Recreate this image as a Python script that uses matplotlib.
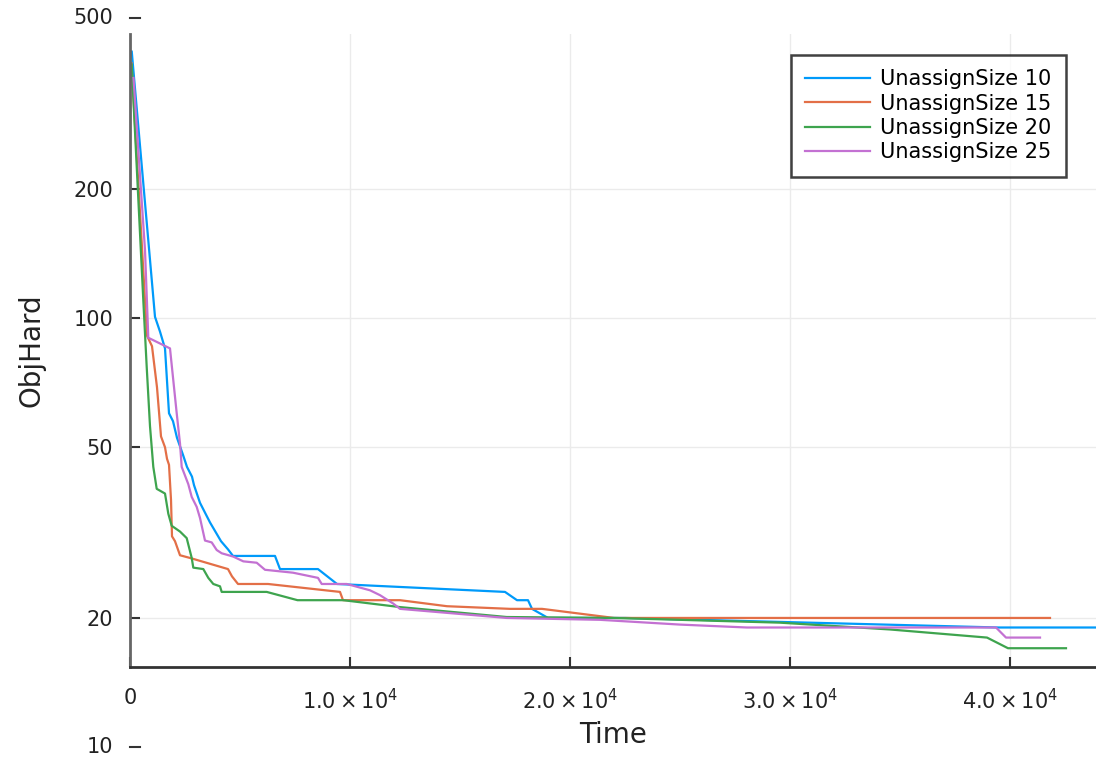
import matplotlib
matplotlib.use("Agg")
import matplotlib.pyplot as plt
import matplotlib.transforms as mtransforms
import numpy as np

# ObjHard over time, one run per unassign size
t10 = [80, 1136, 1364, 1591, 1773, 1955, 2136, 2409, 2590, 2818, 2909, 3182, 3636, 4136, 4455, 4682,
       6591, 6818, 8545, 9409, 17045, 17591, 18091, 18273, 19000, 22500, 39500, 44000]
obj10 = [418, 100.7, 93, 85, 60, 57.5, 52.6, 48, 45, 42.7, 40.8, 37.1, 33.4, 30.2, 28.9, 27.9,
         27.9, 26, 26, 24, 23, 22, 22, 21, 20, 20, 19, 19]

t15 = [68, 773, 1000, 1227, 1409, 1591, 1682, 1773, 1864, 1909, 2045, 2273, 2727, 4455, 4636, 4909,
       6273, 9545, 9682, 12273, 14409, 17273, 18727, 22000, 41818]
obj15 = [393, 91, 86, 69, 53, 50, 47, 45.5, 37.7, 31, 30.2, 28, 27.6, 26, 25, 24,
         24, 23, 22, 22, 21.3, 21, 21, 20, 20]

t20 = [77, 605, 759, 909, 1059, 1214, 1591, 1741, 1895, 2273, 2577, 2805, 2877, 3332, 3559, 3786,
       4091, 4168, 6214, 7614, 9695, 12273, 17121, 22000, 29545, 34545, 38955, 39909, 42545]
obj20 = [390, 110, 77, 56, 45, 40, 39, 35, 32.8, 31.8, 30.7, 27.6, 26.2, 26, 24.8, 24,
         23.7, 23, 23, 22, 22, 21.2, 20.1, 20, 19.5, 18.8, 18, 17, 17]

t25 = [159, 682, 832, 1818, 2123, 2273, 2350, 2650, 2805, 3032, 3182, 3409, 3714, 3941, 4168, 4695,
       5150, 5759, 6136, 7409, 8545, 8714, 9850, 10909, 11364, 11968, 12273, 17121, 21364, 25000,
       28045, 39364, 39818, 41364]
obj25 = [363, 144, 90, 85, 60, 51, 45, 41, 38.3, 36.3, 34.2, 30.3, 30, 28.8, 28.3, 27.8,
         27.1, 26.9, 25.9, 25.5, 24.8, 24, 24, 23.2, 22.6, 21.6, 21, 20, 19.8, 19.3,
         19, 19, 18, 18]

labels = ["UnassignSize 10", "UnassignSize 15", "UnassignSize 20", "UnassignSize 25"]
colors = ["#009AFA", "#E36F47", "#3EA44E", "#C371D2"]

xticks = [0, 1e4, 2e4, 3e4, 4e4]
xticklabels = ["0", r"$1.0\times10^{4}$", r"$2.0\times10^{4}$", r"$3.0\times10^{4}$", r"$4.0\times10^{4}$"]
yticks = [20, 50, 100, 200]
yticks_outside = [500, 10]

fig = plt.figure(figsize=(10.96, 7.62), dpi=100)
ax = fig.add_axes([130 / 1096, 95 / 762, 966 / 1096, 633 / 762])

series = [(t10, obj10), (t15, obj15), (t20, obj20), (t25, obj25)]
for (t, y), lab, c in zip(series, labels, colors):
    ax.plot(t, y, color=c, linewidth=1.6, label=lab)

ax.set_yscale("log")
ax.set_xlim(0, 43909)
ax.set_ylim(15.37, 459.6)

ax.set_xticks(xticks)
ax.set_xticklabels(xticklabels)
ax.set_yticks(yticks)
ax.set_yticklabels([str(v) for v in yticks])
ax.yaxis.set_minor_locator(matplotlib.ticker.NullLocator())
ax.tick_params(axis="both", direction="in", length=7, width=1.5, color="#333333",
               labelsize=15, labelcolor="#222222")
ax.tick_params(axis="x", pad=15)
ax.tick_params(axis="y", pad=12)

# the two log ticks that sit outside the drawn range
trans = mtransforms.blended_transform_factory(ax.transAxes, ax.transData)
for v in yticks_outside:
    ax.plot([0, 0.01], [v, v], transform=trans, color="#333333", linewidth=1.5, clip_on=False)
    ax.text(-0.0175, v, str(v), transform=trans, ha="right", va="center",
            fontsize=15, color="#222222", clip_on=False)

ax.grid(True, color="#ebebeb", linewidth=1)
ax.set_axisbelow(True)
for s in ["top", "right"]:
    ax.spines[s].set_visible(False)
ax.spines["left"].set_color("#666666")
ax.spines["bottom"].set_color("#333333")
ax.spines["left"].set_linewidth(2)
ax.spines["bottom"].set_linewidth(2)

ax.set_xlabel("Time", fontsize=20, color="#222222", labelpad=6)
ax.set_ylabel("ObjHard", fontsize=20, color="#222222", labelpad=20)

leg = ax.legend(loc="upper right", bbox_to_anchor=(0.969, 0.967), borderaxespad=0,
                fontsize=15, frameon=True, fancybox=False, edgecolor="#111111",
                handlelength=3.1, handletextpad=0.5, labelspacing=0.2, borderpad=0.7)
leg.get_frame().set_linewidth(1.8)

plt.savefig("out.png", dpi=100)
